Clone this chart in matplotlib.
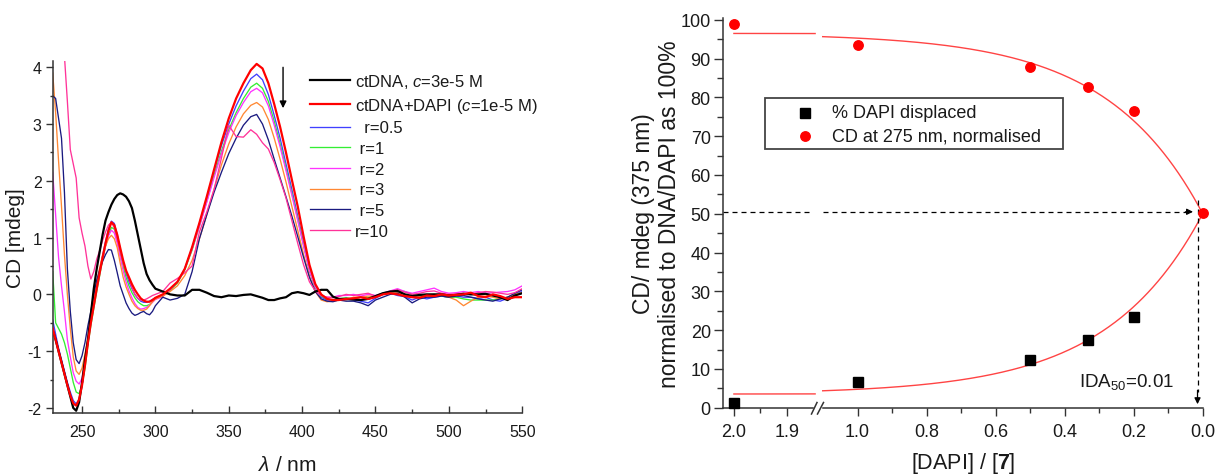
import numpy as np
import matplotlib
matplotlib.use("Agg")
import matplotlib.pyplot as plt
from matplotlib.lines import Line2D
from matplotlib.patches import Rectangle
from matplotlib.ticker import MultipleLocator, FixedLocator, FormatStrFormatter

plt.rcParams['font.family'] = ['Liberation Sans', 'DejaVu Sans']
plt.rcParams['mathtext.fontset'] = 'custom'
plt.rcParams['mathtext.rm'] = 'Liberation Sans'
plt.rcParams['mathtext.it'] = 'Liberation Sans:italic'
plt.rcParams['mathtext.bf'] = 'Liberation Sans:bold'
plt.rcParams['axes.unicode_minus'] = False

# ---------------- left panel: CD spectra ----------------
WAVELENGTH = [230, 232, 234, 236, 238, 240, 242, 244, 246, 248, 250, 252, 254, 256, 258, 260, 262, 264,
              266, 268, 270, 272, 274, 276, 278, 280, 282, 284, 286, 288, 290, 292, 294, 296, 298, 300,
              305, 310, 315, 320, 325, 330, 335, 340, 345, 350, 355, 360, 365,
              369, 373, 377, 381, 385, 389, 393, 397, 401, 405, 409, 413, 417, 421, 425,
              430, 435, 440, 445, 450, 455, 460, 465, 470, 475, 480, 485, 490, 495, 500, 505, 510, 515,
              520, 525, 530, 535, 540, 545, 550]

CD_CTDNA = [-0.62, -0.8, -1.0, -1.2, -1.4, -1.6, -1.8, -2.0, -2.05, -1.9, -1.55, -1.15, -0.8, -0.35, 0.1, 0.45, 0.75, 1.05,
            1.3, 1.45, 1.58, 1.68, 1.75, 1.78, 1.76, 1.72, 1.64, 1.52, 1.3, 1.05, 0.8, 0.55, 0.36, 0.25, 0.17, 0.1,
            0.05, 0.0, -0.02, -0.02, 0.08, 0.08, 0.03, -0.03, -0.05, -0.02, -0.03, -0.01, 0.0,
            -0.03, -0.06, -0.1, -0.1, -0.07, -0.05, 0.02, 0.04, 0.02, -0.01, 0.05, 0.08, 0.08, -0.04, -0.08,
            -0.08, -0.09, -0.1, -0.08, -0.03, 0.02, 0.05, 0.06, 0.0, -0.03, -0.01, 0.0, 0.0, 0.0, -0.02, -0.01, 0.01, 0.0,
            0.0, 0.01, -0.02, -0.05, -0.1, -0.02, 0.02]
CD_DAPI = [-0.6, -0.8, -1.0, -1.2, -1.4, -1.6, -1.78, -1.92, -1.96, -1.85, -1.6, -1.25, -0.85, -0.5, -0.2, 0.1, 0.38, 0.65,
           0.9, 1.12, 1.27, 1.22, 1.05, 0.82, 0.6, 0.42, 0.3, 0.18, 0.08, 0.0, -0.07, -0.11, -0.13, -0.13, -0.1, -0.06,
           0.0, 0.1, 0.22, 0.45, 0.83, 1.26, 1.72, 2.2, 2.68, 3.1, 3.45, 3.72, 3.95,
           4.06, 3.98, 3.72, 3.35, 2.95, 2.5, 2.02, 1.55, 1.02, 0.52, 0.18, 0.0, -0.08, -0.1, -0.1,
           -0.08, -0.07, -0.05, -0.08, -0.05, 0.0, 0.02, 0.0, -0.03, -0.05, -0.06, -0.02, -0.03, 0.0, -0.02, -0.01, 0.0, 0.03,
           -0.03, -0.05, 0.0, -0.03, -0.08, -0.05, -0.05]
CD_R05 = [-0.45, -0.7, -0.95, -1.15, -1.35, -1.55, -1.72, -1.87, -1.93, -1.85, -1.6, -1.25, -0.85, -0.5, -0.2, 0.1, 0.4, 0.68,
          0.93, 1.15, 1.29, 1.25, 1.05, 0.8, 0.57, 0.37, 0.22, 0.1, 0.0, -0.07, -0.12, -0.14, -0.14, -0.12, -0.09, -0.06,
          -0.02, 0.08, 0.22, 0.45, 0.82, 1.25, 1.7, 2.18, 2.62, 3.0, 3.32, 3.58, 3.8,
          3.88, 3.78, 3.52, 3.15, 2.75, 2.3, 1.85, 1.38, 0.9, 0.42, 0.12, -0.05, -0.1, -0.1, -0.08,
          -0.08, -0.1, -0.12, -0.15, -0.07, 0.0, 0.02, -0.02, -0.04, -0.1, -0.05, -0.08, -0.05, -0.03, -0.05, -0.03, -0.05, -0.05,
          -0.07, -0.05, -0.1, -0.12, -0.07, 0.0, 0.05]
CD_R1 = [0.4, -0.5, -0.6, -0.7, -0.85, -1.05, -1.3, -1.55, -1.72, -1.75, -1.6, -1.3, -0.9, -0.55, -0.25, 0.05, 0.33, 0.6,
         0.85, 1.05, 1.18, 1.15, 0.97, 0.72, 0.5, 0.3, 0.15, 0.03, -0.06, -0.13, -0.17, -0.2, -0.2, -0.18, -0.13, -0.08,
         -0.03, 0.07, 0.2, 0.43, 0.78, 1.2, 1.64, 2.1, 2.52, 2.9, 3.2, 3.45, 3.65,
         3.72, 3.63, 3.4, 3.05, 2.65, 2.22, 1.78, 1.33, 0.86, 0.42, 0.12, -0.03, -0.08, -0.1, -0.08,
         -0.06, -0.08, -0.05, -0.06, -0.03, 0.02, 0.05, 0.08, 0.05, 0.0, -0.03, -0.02, 0.0, -0.03, -0.05, -0.05, -0.08, -0.1,
         -0.1, -0.1, -0.1, -0.08, -0.05, 0.0, 0.02]
CD_R2 = [2.15, 1.4, 0.65, 0.15, -0.3, -0.8, -1.1, -1.38, -1.53, -1.58, -1.48, -1.2, -0.85, -0.5, -0.2, 0.1, 0.37, 0.62,
         0.85, 1.03, 1.13, 1.08, 0.9, 0.65, 0.42, 0.22, 0.06, -0.06, -0.16, -0.23, -0.26, -0.25, -0.23, -0.19, -0.14, -0.09,
         -0.04, 0.08, 0.22, 0.45, 0.8, 1.2, 1.62, 2.06, 2.48, 2.85, 3.15, 3.38, 3.57,
         3.63, 3.55, 3.32, 2.98, 2.6, 2.18, 1.75, 1.3, 0.85, 0.42, 0.13, -0.02, -0.05, -0.05, -0.02,
         -0.02, 0.0, -0.03, 0.0, -0.02, 0.02, 0.06, 0.1, 0.05, 0.02, 0.05, 0.08, 0.11, 0.05, 0.02, 0.03, 0.05, 0.03,
         0.05, 0.02, 0.03, 0.04, 0.05, 0.08, 0.15]
CD_R3 = [3.9, 3.2, 2.35, 1.55, 0.7, 0.0, -0.6, -1.1, -1.35, -1.41, -1.3, -1.05, -0.77, -0.45, -0.1, 0.2, 0.47, 0.68,
         0.85, 0.98, 1.04, 0.98, 0.82, 0.55, 0.3, 0.13, 0.0, -0.12, -0.2, -0.25, -0.28, -0.28, -0.26, -0.2, -0.13, -0.08,
         -0.03, 0.05, 0.15, 0.33, 0.6, 0.98, 1.4, 1.85, 2.28, 2.65, 2.95, 3.18, 3.33,
         3.38, 3.3, 3.08, 2.75, 2.38, 1.98, 1.55, 1.13, 0.7, 0.32, 0.05, -0.1, -0.13, -0.12, -0.1,
         -0.1, -0.05, -0.05, -0.03, -0.04, 0.0, 0.02, 0.03, 0.0, -0.03, -0.05, -0.05, -0.03, -0.02, -0.05, -0.1, -0.2, -0.12,
         -0.05, -0.03, -0.05, -0.08, -0.05, 0.0, 0.03]
CD_R5 = [3.5, 3.45, 3.1, 2.75, 1.8, 0.45, -0.3, -0.85, -1.15, -1.22, -1.08, -0.85, -0.55, -0.3, 0.0, 0.25, 0.43, 0.58,
         0.7, 0.79, 0.78, 0.6, 0.38, 0.15, 0.0, -0.15, -0.25, -0.33, -0.37, -0.35, -0.32, -0.3, -0.34, -0.36, -0.3, -0.2,
         -0.05, -0.1, -0.07, 0.0, 0.4, 0.98, 1.4, 1.8, 2.15, 2.48, 2.75, 2.98, 3.13,
         3.17, 3.0, 2.72, 2.38, 2.05, 1.72, 1.38, 1.02, 0.65, 0.3, 0.05, -0.08, -0.12, -0.13, -0.1,
         -0.12, -0.12, -0.15, -0.2, -0.1, -0.05, 0.0, 0.02, -0.05, -0.15, -0.08, -0.05, -0.05, -0.03, -0.05, -0.03, -0.02, -0.05,
         -0.08, -0.1, -0.12, -0.08, -0.05, 0.02, 0.08]
CD_R10 = [6.0, 5.6, 5.2, 4.7, 4.2, 3.4, 2.55, 2.3, 2.05, 1.35, 1.08, 0.85, 0.5, 0.27, 0.4, 0.62, 0.77, 0.95,
          1.1, 1.22, 1.27, 1.17, 0.97, 0.75, 0.55, 0.4, 0.27, 0.12, 0.0, -0.07, -0.1, -0.1, -0.08, -0.05, -0.02, 0.0,
          0.05, 0.2, 0.28, 0.38, 0.5, 1.1, 1.45, 1.85, 2.4, 2.98, 2.78, 2.77, 2.9,
          2.82, 2.67, 2.56, 2.32, 2.02, 1.7, 1.3, 0.9, 0.52, 0.22, 0.06, -0.02, -0.05, -0.06, -0.04,
          0.0, -0.02, 0.0, 0.02, -0.03, 0.0, 0.05, 0.08, 0.04, 0.0, 0.02, 0.05, 0.06, 0.02, 0.0, 0.01, 0.02, 0.0,
          0.03, 0.05, 0.04, 0.02, 0.0, 0.03, 0.1]

SPECTRA = [CD_CTDNA, CD_DAPI, CD_R05, CD_R1, CD_R2, CD_R3, CD_R5, CD_R10]
SPECTRA_LABELS = ['ctDNA, $c$=3e-5 M', 'ctDNA+DAPI ($c$=1e-5 M)', '  r=0.5', ' r=1', ' r=2', ' r=3', ' r=5', 'r=10']
SPECTRA_COLORS = ['#000000', '#ff0000', '#4040ff', '#33ee33', '#ff33ff', '#ff8833', '#1a1a80', '#ff3399']
SPECTRA_LW = [1.6, 1.6, 0.95, 0.95, 0.95, 0.95, 0.95, 0.95]
SPECTRA_Z = [2.5, 3, 2, 2, 2, 2, 2, 2]

# ---------------- right panel: displacement ----------------
RATIO_CD = [2.0, 1.0, 0.5, 0.333, 0.2, 0.0]
CD_275_NORM = [98.9, 93.5, 87.7, 82.6, 76.5, 50.1]
RATIO_DISP = [2.0, 1.0, 0.5, 0.333, 0.2]
DAPI_DISPLACED = [1.1, 6.5, 12.3, 17.4, 23.5]
LEGEND_R = ['% DAPI displaced', 'CD at 275 nm, normalised']
# exponential fit parameters
FIT_TOP = 96.5
FIT_BOTTOM = 3.5
FIT_MID = 50.0
FIT_TAU = 0.276
IDA50 = 0.015
HALF_LEVEL = 50.5


def fit_cd(x):
    return FIT_TOP - (FIT_TOP - FIT_MID) * np.exp(-x / FIT_TAU)


def fit_disp(x):
    return FIT_BOTTOM + (FIT_MID - FIT_BOTTOM) * np.exp(-x / FIT_TAU)


W, H = 1217, 477
TXT = '#1a1a1a'
fig = plt.figure(figsize=(W / 100, H / 100), dpi=100)

# ---------- left axes ----------
axL = fig.add_axes([52.7 / W, (H - 414) / H, 469.5 / W, (414 - 61.5) / H])
for vals, col, lw, lab, z in zip(SPECTRA, SPECTRA_COLORS, SPECTRA_LW, SPECTRA_LABELS, SPECTRA_Z):
    axL.plot(WAVELENGTH, vals, color=col, lw=lw, label=lab, zorder=z)
axL.set_xlim(230, 550)
axL.set_ylim(-2.09, 4.12)
for s in ['top', 'right']:
    axL.spines[s].set_visible(False)
for s in ['left', 'bottom']:
    axL.spines[s].set_color('#333333')
    axL.spines[s].set_linewidth(1.1)
axL.xaxis.set_major_locator(MultipleLocator(50))
axL.xaxis.set_minor_locator(MultipleLocator(25))
axL.yaxis.set_major_locator(MultipleLocator(1))
axL.yaxis.set_minor_locator(MultipleLocator(0.5))
axL.tick_params(axis='x', which='major', direction='in', length=5, width=1, pad=8, labelsize=11.5, colors='#333333', labelcolor=TXT)
axL.tick_params(axis='x', which='minor', direction='in', length=3, width=1, colors='#333333')
axL.tick_params(axis='y', which='major', direction='out', length=5, width=1, pad=3, labelsize=11.5, colors='#333333', labelcolor=TXT)
axL.tick_params(axis='y', which='minor', direction='out', length=2.5, width=1, colors='#333333')
axL.set_xlabel(r'$\lambda$ / nm', fontsize=15, color=TXT, va='top')
axL.xaxis.set_label_coords(0.5, -0.118)
axL.set_ylabel('CD [mdeg]', fontsize=15, color=TXT)
axL.yaxis.set_label_coords(-0.058, 0.5)
axL.legend(loc='upper left', bbox_to_anchor=(310 / W, (H - 73) / H), bbox_transform=fig.transFigure,
           frameon=False, fontsize=12, handlelength=2.4, handletextpad=0.3, labelspacing=0.34,
           borderpad=0, borderaxespad=0, labelcolor=TXT)
axL.annotate('', xy=(387, 3.28), xytext=(387, 4.0),
             arrowprops=dict(arrowstyle='-|>', color='black', lw=1.0, mutation_scale=10, shrinkA=0, shrinkB=0))

# ---------- right axes (broken x axis) ----------
bottom = (H - 408.7) / H
height = (408.7 - 18.8) / H
axA = fig.add_axes([723.3 / W, bottom, (813 - 723.3) / W, height])
axB = fig.add_axes([822.7 / W, bottom, 380 / W, height])
axA.set_xlim(2.02, 1.851)
axB.set_xlim(1.101, 0.0)
for ax in (axA, axB):
    ax.set_ylim(0, 100.5)
    ax.patch.set_alpha(0)
    for s in ['top', 'right']:
        ax.spines[s].set_visible(False)
    for s in ['left', 'bottom']:
        ax.spines[s].set_color('#333333')
        ax.spines[s].set_linewidth(1.1)
    ax.xaxis.set_major_formatter(FormatStrFormatter('%.1f'))
    ax.tick_params(axis='x', which='major', direction='out', length=6, width=1, pad=5, labelsize=13, colors='#333333', labelcolor=TXT)
    ax.tick_params(axis='x', which='minor', direction='out', length=3.5, width=1, colors='#333333')
axB.spines['left'].set_visible(False)
axB.tick_params(axis='y', which='both', left=False, labelleft=False)
axA.xaxis.set_major_locator(FixedLocator([2.0, 1.9]))
axA.xaxis.set_minor_locator(FixedLocator([1.95]))
axB.xaxis.set_major_locator(FixedLocator([1.0, 0.8, 0.6, 0.4, 0.2, 0.0]))
axB.xaxis.set_minor_locator(FixedLocator([0.9, 0.7, 0.5, 0.3, 0.1]))
axA.yaxis.set_major_locator(MultipleLocator(10))
axA.yaxis.set_minor_locator(MultipleLocator(5))
axA.tick_params(axis='y', which='major', direction='out', length=6.5, width=1, pad=2.5, labelsize=13, colors='#333333', labelcolor=TXT)
axA.tick_params(axis='y', which='minor', direction='out', length=4, width=1, colors='#333333')

axA.set_ylabel('CD/ mdeg (375 nm)\nnormalised to DNA/DAPI as 100%', fontsize=16.5, color=TXT, linespacing=1.15)
axA.yaxis.set_label_coords(-0.47, 0.5)
axB.set_xlabel(r'[DAPI] / [$\mathbf{7}$]', fontsize=15.5, color=TXT, va='center')
axB.xaxis.set_label_coords(0.369, -0.14)

FIT_RED = '#ff4444'
xa = np.linspace(2.0, 1.847, 20)
axA.plot(xa, fit_cd(xa), color=FIT_RED, lw=1.0, clip_on=False)
axA.plot(xa, fit_disp(xa), color=FIT_RED, lw=1.0, clip_on=False)
xb = np.linspace(1.101, 0.0, 300)
axB.plot(xb, fit_cd(xb), color=FIT_RED, lw=1.0, clip_on=False)
axB.plot(xb, fit_disp(xb), color=FIT_RED, lw=1.0, clip_on=False)

rc = np.array(RATIO_CD); vc = np.array(CD_275_NORM)
rd = np.array(RATIO_DISP); vd = np.array(DAPI_DISPLACED)
for ax, sel_c, sel_d in ((axA, rc > 1.5, rd > 1.5), (axB, rc <= 1.5, rd <= 1.5)):
    ax.plot(rd[sel_d], vd[sel_d], 's', color='black', ms=6.7, clip_on=False, zorder=5)
    ax.plot(rc[sel_c], vc[sel_c], 'o', color='red', ms=6.8, clip_on=False, zorder=6)

# dashed guide lines with arrows
dash = dict(color='black', lw=0.9, dashes=(4, 3.2))
axA.plot([2.02, 1.851], [HALF_LEVEL, HALF_LEVEL], clip_on=False, **dash)
axB.plot([1.101, 0.045], [HALF_LEVEL, HALF_LEVEL], clip_on=False, **dash)
axB.annotate('', xy=(0.028, HALF_LEVEL), xytext=(0.05, HALF_LEVEL),
             arrowprops=dict(arrowstyle='-|>', color='black', lw=0.9, mutation_scale=9, shrinkA=0, shrinkB=0))
axB.plot([IDA50, IDA50], [53.6, 4.0], clip_on=False, **dash)
axB.annotate('', xy=(IDA50, 0.9), xytext=(IDA50, 4.5),
             arrowprops=dict(arrowstyle='-|>', color='black', lw=0.9, mutation_scale=9, shrinkA=0, shrinkB=0))
axB.text(0.358, 5.6, 'IDA$_{50}$=0.01', fontsize=13.5, color=TXT, ha='left', va='baseline')

# axis break marks
for x0, x1 in ((811.5, 817.0), (817.5, 823.5)):
    fig.add_artist(Line2D([x0 / W, x1 / W], [(H - 415) / H, (H - 403.5) / H], color='#333333', lw=1.1))

# legend for right panel
fig.add_artist(Rectangle((765 / W, (H - 150) / H), 298 / W, 51 / H, transform=fig.transFigure,
                         facecolor='white', edgecolor='#444444', lw=1.3, zorder=10))
fig.add_artist(Line2D([805 / W], [(H - 114) / H], marker='s', color='black', ms=6.7, zorder=11))
fig.add_artist(Line2D([805 / W], [(H - 137) / H], marker='o', color='red', ms=6.8, zorder=11))
fig.text(832 / W, (H - 114) / H, LEGEND_R[0], fontsize=13, color=TXT, va='center', ha='left', zorder=12)
fig.text(832 / W, (H - 137) / H, LEGEND_R[1], fontsize=13, color=TXT, va='center', ha='left', zorder=12)

fig.savefig('out.png', dpi=100)
